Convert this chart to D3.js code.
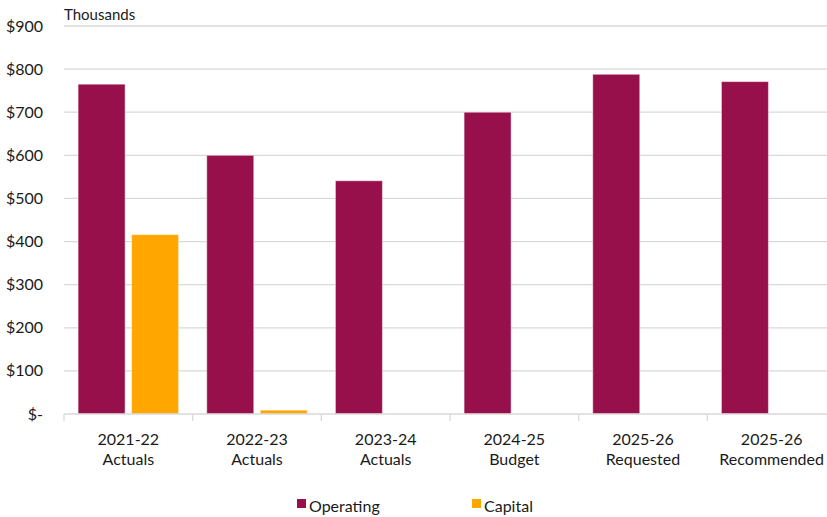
<!DOCTYPE html>
<html><head><meta charset="utf-8">
<script src="https://cdn.jsdelivr.net/npm/d3@7"></script>
<style>
body{margin:0;background:#fff;}
text{font-family:Lato,"Open Sans",sans-serif;fill:#1a1a1a;}
</style></head>
<body><svg id="c" width="827" height="517"></svg>
<script>
const categories = [["2021-22","Actuals"],["2022-23","Actuals"],["2023-24","Actuals"],["2024-25","Budget"],["2025-26","Requested"],["2025-26","Recommended"]];
const seriesNames = ["Operating","Capital"];
const operating = [765, 600, 541, 700, 788, 771];
const capital = [416, 9, 0, 0, 0, 0];
const yTicks = [0,100,200,300,400,500,600,700,800,900];
const colors = ["#98104B","#FFA600"];

(function(){
const svg = d3.select("#c");
const mLeft = 64, mRight = 836, mTop = 26, mBottom = 414;
const x0 = d3.scaleBand().domain(d3.range(categories.length)).range([mLeft, mRight]).padding(0);
const x1 = d3.scaleBand().domain(seriesNames).range([0, x0.bandwidth()]).paddingInner(0.1215).paddingOuter(0.2636);
const y = d3.scaleLinear().domain([0,900]).range([mBottom, mTop]);

svg.append("g").selectAll("line").data(yTicks.filter(d=>d>0)).join("line")
  .attr("x1", mLeft).attr("x2", 827).attr("y1", d=>y(d)).attr("y2", d=>y(d))
  .attr("stroke","#d9d9d9").attr("stroke-width",1.3);

svg.append("g").selectAll("text").data(yTicks).join("text")
  .attr("x", 43).attr("y", d=>y(d)).attr("dy","0.35em").attr("text-anchor","end")
  .style("font-size","16px").text(d=> d===0 ? "$-" : "$"+d);

svg.append("text").attr("x",64).attr("y",20).style("font-size","15px").text("Thousands");

const g = svg.append("g");
categories.forEach((c,i)=>{
  const vals = [operating[i], capital[i]];
  seriesNames.forEach((s,k)=>{
    const v = vals[k];
    if(v<=0) return;
    g.append("rect").attr("x", x0(i)+x1(s)).attr("width", x1.bandwidth())
      .attr("y", y(v)).attr("height", y(0)-y(v)).attr("fill", colors[k])
      .attr("stroke","rgba(255,255,255,0.45)").attr("stroke-width",1);
  });
});

svg.append("line").attr("x1",mLeft).attr("x2",827).attr("y1",mBottom).attr("y2",mBottom).attr("stroke","#d9d9d9").attr("stroke-width",1.3);
svg.append("g").selectAll("line").data(d3.range(categories.length+1)).join("line")
  .attr("x1", d=>mLeft + d*x0.step()).attr("x2", d=>mLeft + d*x0.step())
  .attr("y1", mBottom).attr("y2", mBottom+7).attr("stroke","#d9d9d9").attr("stroke-width",1.3);
const xl = svg.append("g").selectAll("text").data(categories).join("text")
  .attr("text-anchor","middle").style("font-size","16px")
  .attr("transform",(d,i)=>`translate(${x0(i)+x0.bandwidth()/2},0)`);
xl.append("tspan").attr("x",0).attr("y",445).text(d=>d[0]);
xl.append("tspan").attr("x",0).attr("y",465).text(d=>d[1]);

const legX = [297, 472];
seriesNames.forEach((s,k)=>{
  svg.append("rect").attr("x",legX[k]).attr("y",499).attr("width",9).attr("height",9).attr("fill",colors[k]);
  svg.append("text").attr("x",legX[k]+12).attr("y",512).style("font-size","16px").text(s);
});
})();
</script></body></html>
